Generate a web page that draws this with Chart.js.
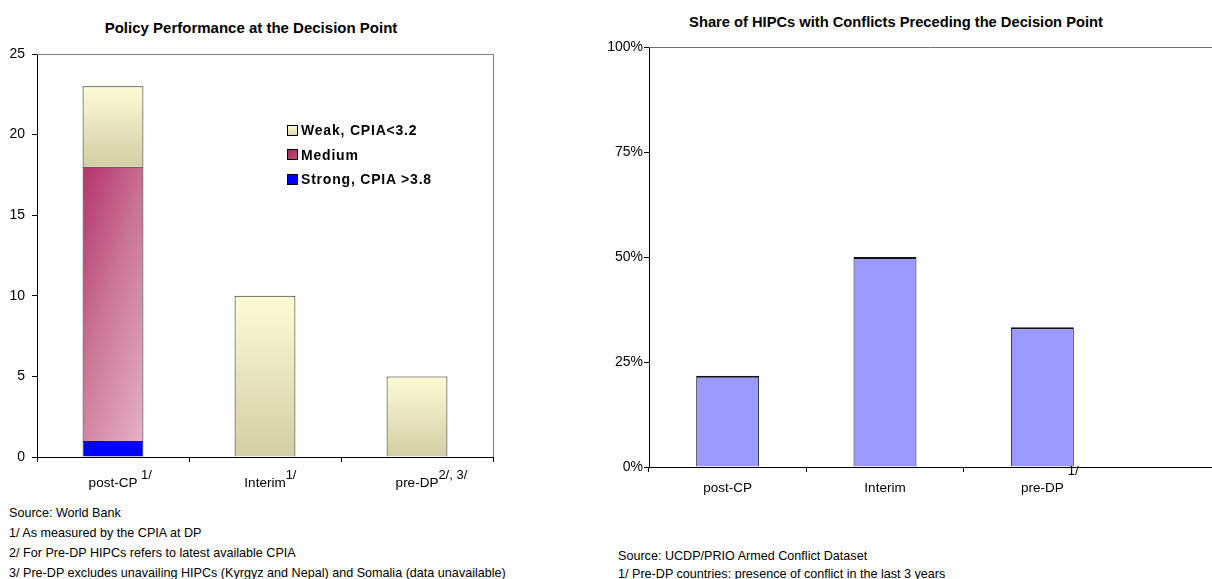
<!DOCTYPE html>
<html>
<head>
<meta charset="utf-8">
<script src="https://cdn.jsdelivr.net/npm/chart.js@4.4.0/dist/chart.umd.min.js"></script>
<style>
body { margin:0; width:1212px; height:579px; overflow:hidden; background:#fff; position:relative;
       font-family:"Liberation Sans", Arial, sans-serif; color:#000; }
canvas { position:absolute; top:0; }
.title { position:absolute; font-weight:bold; font-size:15px; white-space:nowrap; transform:translate(-50%,-50%); }
.note { position:absolute; font-size:12.6px; white-space:nowrap; line-height:20px; }
.legend { position:absolute; left:287px; top:118px; font-weight:bold; font-size:14px; letter-spacing:0.8px; }
.legend div { height:24.5px; display:flex; align-items:center; }
.legend .sw { width:9px; height:9px; border:1px solid #000; margin-right:3px; display:inline-block; }
</style>
</head>
<body>
<div class="title" style="left:251px;top:27px">Policy Performance at the Decision Point</div>
<div class="title" style="left:896px;top:22px;font-size:14.7px">Share of HIPCs with Conflicts Preceding the Decision Point</div>

<canvas id="policyChart" width="600" height="500" style="left:0"></canvas>
<canvas id="conflictChart" width="612" height="500" style="left:600px"></canvas>

<div class="legend">
  <div><span class="sw" style="background:linear-gradient(#FCFCD8,#DCD8B0)"></span>Weak, CPIA&lt;3.2</div>
  <div><span class="sw" style="background:linear-gradient(135deg,#A02858,#C05078)"></span>Medium</div>
  <div><span class="sw" style="background:#0000FF"></span>Strong, CPIA &gt;3.8</div>
</div>

<div class="note" style="left:9px;top:503px">
  Source: World Bank<br>
  1/ As measured by the CPIA at DP<br>
  2/ For Pre-DP HIPCs refers to latest available CPIA<br>
  3/ Pre-DP excludes unavailing HIPCs (Kyrgyz and Nepal) and Somalia (data unavailable)
</div>
<div class="note" style="left:618px;top:547px;line-height:18px">
  Source: UCDP/PRIO Armed Conflict Dataset<br>
  1/ Pre-DP countries: presence of conflict in the last 3 years
</div>

<script>
// 資料
const categories = ['post-CP', 'Interim', 'pre-DP'];
const policyNotes = [' 1/', '1/', '2/, 3/'];
const conflictNotes = ['', '', '1/'];
const strong = [1, 0, 0];
const medium = [17, 0, 0];
const weak = [5, 10, 5];
const conflictShare = [21.7, 50, 33.3];   // %

const FONT = '"Liberation Sans", Arial, sans-serif';

// 漸層填色
function weakFill(c) {
    const chart = c.chart;
    if (!chart.chartArea || c.dataIndex === undefined) return '#ECEBC4';
    const y = chart.scales.y;
    const i = c.dataIndex;
    const base = strong[i] + medium[i];
    const g = chart.ctx.createLinearGradient(0, y.getPixelForValue(base + weak[i]), 0, y.getPixelForValue(base));
    g.addColorStop(0, '#FCFCD4');
    g.addColorStop(1, '#D2CEA6');
    return g;
}

function mediumFill(c) {
    const chart = c.chart;
    if (!chart.chartArea || c.dataIndex === undefined) return '#C8688E';
    const x = chart.scales.x, y = chart.scales.y;
    const i = c.dataIndex;
    const w = x.width / categories.length * 0.4;
    const left = x.getPixelForValue(i) - w / 2;
    const top = y.getPixelForValue(strong[i] + medium[i]);
    const h = Math.max(1, y.getPixelForValue(strong[i]) - top);
    // 斜向漸層：右上角約 0.4、左下角約 0.6
    const S = 1 / (Math.pow(0.4 / w, 2) + Math.pow(0.6 / h, 2));
    const g = chart.ctx.createLinearGradient(left, top, left + 0.4 * S / w, top + 0.6 * S / h);
    g.addColorStop(0, '#B5336B');
    g.addColorStop(0.45, '#C97593');
    g.addColorStop(1, '#E6B2C6');
    return g;
}

// 類別標籤（含上標）
function labelPlugin(notes, labelY, raise, gap) {
    return {
        id: 'catLabels',
        afterDraw(chart) {
            const ctx = chart.ctx, x = chart.scales.x;
            ctx.save();
            ctx.fillStyle = '#000';
            ctx.textBaseline = 'middle';
            categories.forEach((c, i) => {
                const cx = x.getPixelForValue(i);
                ctx.font = '13.5px ' + FONT;
                ctx.textAlign = 'center';
                ctx.fillText(c, cx, labelY);
                const w = ctx.measureText(c).width;
                if (notes[i]) {
                    ctx.font = '13px ' + FONT;
                    ctx.textAlign = 'left';
                    ctx.fillText(notes[i], cx + w / 2 + gap, labelY - raise);
                }
            });
            ctx.restore();
        }
    };
}

// 邊框
const policyFrame = {
    id: 'policyFrame',
    beforeDatasetsDraw(chart) {
        const { ctx, chartArea: a } = chart;
        ctx.save();
        ctx.strokeStyle = '#808080';
        ctx.lineWidth = 1;
        ctx.beginPath();
        ctx.moveTo(a.left, Math.round(a.top) + 0.5);
        ctx.lineTo(Math.round(a.right) + 0.5, Math.round(a.top) + 0.5);
        ctx.lineTo(Math.round(a.right) + 0.5, a.bottom);
        ctx.stroke();
        ctx.restore();
    }
};

const conflictFrame = {
    id: 'conflictFrame',
    beforeDatasetsDraw(chart) {
        const { ctx, chartArea: a, width } = chart;
        ctx.save();
        ctx.lineWidth = 1;
        ctx.strokeStyle = '#707070';
        ctx.beginPath();
        ctx.moveTo(a.left, Math.round(a.top) + 0.5);
        ctx.lineTo(width, Math.round(a.top) + 0.5);
        ctx.stroke();
        ctx.strokeStyle = '#000';
        ctx.beginPath();
        ctx.moveTo(a.right, Math.round(a.bottom) + 0.5);
        ctx.lineTo(width, Math.round(a.bottom) + 0.5);
        ctx.stroke();
        ctx.restore();
    }
};

const axisGrid = { drawOnChartArea: false, tickLength: 5, color: '#000', lineWidth: 1 };

// 左圖：政策表現
new Chart(document.getElementById('policyChart').getContext('2d'), {
    type: 'bar',
    data: {
        labels: categories,
        datasets: [
            { label: 'Strong, CPIA >3.8', data: strong, backgroundColor: '#0000FF' },
            { label: 'Medium', data: medium, backgroundColor: mediumFill },
            { label: 'Weak, CPIA<3.2', data: weak, backgroundColor: weakFill }
        ].map(d => Object.assign(d, {
            borderColor: '#222', borderWidth: 1,
            categoryPercentage: 1, barPercentage: 0.4
        }))
    },
    options: {
        responsive: false,
        animation: false,
        layout: { padding: { top: 54, right: 107, left: 0, bottom: 0 } },
        plugins: { legend: { display: false }, tooltip: { enabled: false } },
        scales: {
            x: {
                stacked: true,
                afterFit: s => { s.height = 43; },
                ticks: { display: false },
                grid: axisGrid,
                border: { color: '#000' }
            },
            y: {
                stacked: true,
                min: 0, max: 25,
                afterFit: s => { s.width = 37; },
                ticks: { stepSize: 5, padding: 7, color: '#000', font: { family: FONT, size: 14 } },
                grid: axisGrid,
                border: { color: '#000' }
            }
        }
    },
    plugins: [policyFrame, labelPlugin(policyNotes, 483, 8, 0)]
});

// 右圖：衝突比例
new Chart(document.getElementById('conflictChart').getContext('2d'), {
    type: 'bar',
    data: {
        labels: categories,
        datasets: [{
            label: 'Share',
            data: conflictShare,
            backgroundColor: '#9999FF',
            borderColor: '#111',
            borderWidth: { top: 2, left: 1, right: 1, bottom: 0 },
            categoryPercentage: 1,
            barPercentage: 0.4
        }]
    },
    options: {
        responsive: false,
        animation: false,
        layout: { padding: { top: 47, right: 91, left: 0, bottom: 0 } },
        plugins: { legend: { display: false }, tooltip: { enabled: false } },
        scales: {
            x: {
                afterFit: s => { s.height = 33; },
                ticks: { display: false },
                grid: Object.assign({}, axisGrid, { color: c => (c.tick ? '#000' : 'rgba(0,0,0,0)') }),
                border: { color: '#000' }
            },
            y: {
                min: 0, max: 100,
                afterFit: s => { s.width = 49; },
                ticks: { stepSize: 25, padding: 1, color: '#000', font: { family: FONT, size: 14 },
                         callback: v => v + '%' },
                grid: axisGrid,
                border: { color: '#000' }
            }
        }
    },
    plugins: [conflictFrame, labelPlugin(conflictNotes, 488, 17, 4)]
});
</script>
</body>
</html>
